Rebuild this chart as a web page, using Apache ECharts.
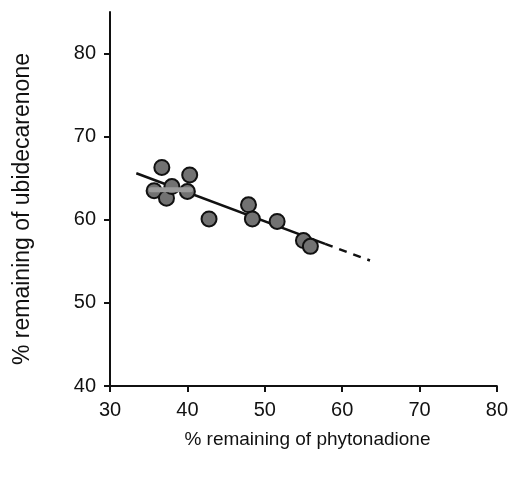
<!DOCTYPE html>
<html>
<head>
<meta charset="utf-8">
<script src="https://cdn.jsdelivr.net/npm/echarts@6/dist/echarts.min.js"></script>
<style>
  html, body { margin: 0; padding: 0; background: #fff; }
  #chart { width: 511px; height: 478px; }
</style>
</head>
<body>
<div id="chart"></div>
<script>
// Measured samples: % remaining of each vitamin
const phytonadione   = [36.7, 40.3, 35.7, 37.3, 38.0, 40.0, 42.8, 47.9, 48.4, 51.6, 55.0, 55.9];
const ubidecarenone  = [66.3, 65.4, 63.5, 62.6, 64.0, 63.4, 60.1, 61.8, 60.1, 59.8, 57.5, 56.8];

// Regression line: fitted range (solid) and extrapolation (dashed)
const fitX  = [33.4, 57.8];
const fitY  = [65.6, 57.1];
const extX  = [57.8, 63.6];
const extY  = [57.1, 55.1];

// Grey horizontal bar drawn across the clustered points
const bandX = [35.3, 40.4];
const bandY = [63.6, 63.6];

const xTicks = [30, 40, 50, 60, 70, 80];
const yTicks = [40, 50, 60, 70, 80];

const pairs = (xs, ys) => xs.map((x, i) => [x, ys[i]]);

const chart = echarts.init(document.getElementById('chart'));
const font = 'Arial, "Liberation Sans", sans-serif';

chart.setOption({
  animation: false,
  backgroundColor: '#fff',
  grid: { left: 110, right: 14, top: 12, bottom: 92 },
  xAxis: {
    type: 'value',
    min: 30, max: 80, interval: 10,
    name: '% remaining of phytonadione',
    nameLocation: 'middle',
    nameGap: 44,
    nameTextStyle: { color: '#111', fontSize: 19, fontFamily: font, padding: [0, 0, 0, 8] },
    axisLine: { lineStyle: { color: '#111', width: 2 } },
    axisTick: { show: true, inside: false, length: 6, lineStyle: { color: '#111', width: 2 }, customValues: xTicks },
    axisLabel: { color: '#111', fontSize: 20, fontFamily: font, margin: 14, customValues: xTicks },
    splitLine: { show: false }
  },
  yAxis: {
    type: 'value',
    min: 40, max: 85, interval: 10,
    name: '% remaining of ubidecarenone',
    nameLocation: 'middle',
    nameGap: 76,
    nameTextStyle: { color: '#111', fontSize: 23, fontFamily: font, padding: [0, 20, 0, 0] },
    axisLine: { lineStyle: { color: '#111', width: 2 } },
    axisTick: { show: true, inside: false, length: 6, lineStyle: { color: '#111', width: 2 }, customValues: yTicks },
    axisLabel: { color: '#111', fontSize: 20, fontFamily: font, margin: 14, customValues: yTicks },
    splitLine: { show: false }
  },
  series: [
    {
      type: 'line',
      data: pairs(fitX, fitY),
      symbol: 'none',
      lineStyle: { color: '#111', width: 2.5 },
      z: 2
    },
    {
      type: 'line',
      data: pairs(extX, extY),
      symbol: 'none',
      lineStyle: { color: '#111', width: 2.5, type: [8, 7] },
      z: 2
    },
    {
      type: 'scatter',
      data: pairs(phytonadione, ubidecarenone),
      symbol: 'circle',
      symbolSize: 15,
      itemStyle: { color: '#727272', borderColor: '#111', borderWidth: 2, opacity: 1 },
      z: 3
    },
    {
      type: 'line',
      data: pairs(bandX, bandY),
      symbol: 'none',
      lineStyle: { color: '#9a9a9a', width: 5, cap: 'round' },
      z: 4
    }
  ]
});
</script>
</body>
</html>
